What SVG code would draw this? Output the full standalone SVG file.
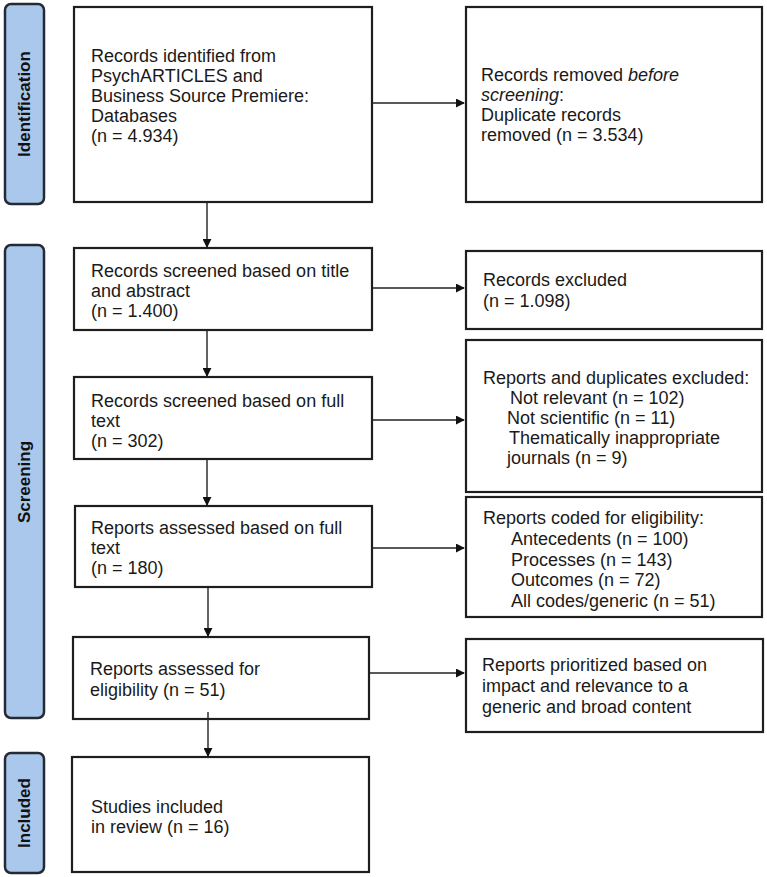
<svg xmlns="http://www.w3.org/2000/svg" width="767" height="877" viewBox="0 0 767 877">
<style>
.box{fill:#fff;stroke:#1e1e1e;stroke-width:2.2}
.side{fill:#a9c8ec;stroke:#262b33;stroke-width:2.5}
.t{font-family:"Liberation Sans",Arial,sans-serif;font-size:18px;fill:#1a1a1a}
.s{font-family:"Liberation Sans",Arial,sans-serif;font-size:17px;font-weight:bold;fill:#111}
.c{stroke:#222;stroke-width:1.4;fill:none}
</style>
<defs>
<marker id="ah" viewBox="0 0 10 10" refX="9" refY="5" markerWidth="9" markerHeight="9" markerUnits="userSpaceOnUse" orient="auto">
<path d="M0,0 L10,5 L0,10 z" fill="#111"/>
</marker>
</defs>
<rect width="767" height="877" fill="#fff"/>

<g id="side-identification">
<rect class="side" x="5" y="4" width="39" height="200" rx="6"/>
<text class="s" transform="translate(30,104) rotate(-90)" text-anchor="middle">Identification</text>
</g>
<g id="side-screening">
<rect class="side" x="5" y="245" width="39" height="473" rx="6"/>
<text class="s" transform="translate(30,482) rotate(-90)" text-anchor="middle">Screening</text>
</g>
<g id="side-included">
<rect class="side" x="5" y="753" width="39" height="120" rx="6"/>
<text class="s" transform="translate(30,813) rotate(-90)" text-anchor="middle">Included</text>
</g>

<g id="n-identified">
<rect class="box" x="74" y="7" width="298" height="195"/>
<text class="t" x="91"><tspan x="91" y="62">Records identified from</tspan><tspan x="91" y="82">PsychARTICLES and</tspan><tspan x="91" y="102">Business Source Premiere:</tspan><tspan x="91" y="122">Databases</tspan><tspan x="91" y="142">(n = 4.934)</tspan></text>
</g>
<g id="n-removed">
<rect class="box" x="466" y="7" width="296" height="195"/>
<text class="t"><tspan x="481" y="81">Records removed <tspan font-style="italic">before</tspan></tspan><tspan x="481" y="101" font-style="italic">screening</tspan><tspan>:</tspan><tspan x="481" y="121">Duplicate records</tspan><tspan x="481" y="141">removed (n = 3.534)</tspan></text>
</g>
<g id="n-screened-title">
<rect class="box" x="74" y="248" width="298" height="82"/>
<text class="t"><tspan x="91" y="277">Records screened based on title</tspan><tspan x="91" y="297">and abstract</tspan><tspan x="91" y="317">(n = 1.400)</tspan></text>
</g>
<g id="n-excluded">
<rect class="box" x="466" y="251" width="296" height="78"/>
<text class="t"><tspan x="483" y="286">Records excluded</tspan><tspan x="483" y="307">(n = 1.098)</tspan></text>
</g>
<g id="n-screened-full">
<rect class="box" x="74" y="377" width="298" height="82"/>
<text class="t"><tspan x="91" y="407">Records screened based on full</tspan><tspan x="91" y="427">text</tspan><tspan x="91" y="447">(n = 302)</tspan></text>
</g>
<g id="n-reports-excluded">
<rect class="box" x="466" y="340" width="296" height="152"/>
<text class="t"><tspan x="483" y="384">Reports and duplicates excluded:</tspan><tspan x="510" y="404">Not relevant (n = 102)</tspan><tspan x="507" y="424">Not scientific (n = 11)</tspan><tspan x="509" y="444">Thematically inappropriate</tspan><tspan x="507" y="464">journals (n = 9)</tspan></text>
</g>
<g id="n-assessed-full">
<rect class="box" x="75" y="506" width="297" height="81"/>
<text class="t"><tspan x="91" y="534">Reports assessed based on full</tspan><tspan x="91" y="554">text</tspan><tspan x="91" y="574">(n = 180)</tspan></text>
</g>
<g id="n-coded">
<rect class="box" x="466" y="497" width="296" height="120"/>
<text class="t"><tspan x="483" y="524">Reports coded for eligibility:</tspan><tspan x="511" y="545">Antecedents (n = 100)</tspan><tspan x="511" y="566">Processes (n = 143)</tspan><tspan x="511" y="586">Outcomes (n = 72)</tspan><tspan x="511" y="607">All codes/generic (n = 51)</tspan></text>
</g>
<g id="n-assessed-eligibility">
<rect class="box" x="73" y="637" width="296" height="82"/>
<text class="t"><tspan x="90" y="675">Reports assessed for</tspan><tspan x="90" y="696">eligibility (n = 51)</tspan></text>
</g>
<g id="n-prioritized">
<rect class="box" x="466" y="639" width="297" height="93"/>
<text class="t"><tspan x="482" y="671">Reports prioritized based on</tspan><tspan x="482" y="692">impact and relevance to a</tspan><tspan x="482" y="713">generic and broad content</tspan></text>
</g>
<g id="n-included">
<rect class="box" x="72" y="757" width="297" height="115"/>
<text class="t"><tspan x="91" y="813">Studies included</tspan><tspan x="91" y="833">in review (n = 16)</tspan></text>
</g>

<g id="connectors">
<line class="c" x1="207" y1="202" x2="207" y2="247" marker-end="url(#ah)"/>
<line class="c" x1="207" y1="330" x2="207" y2="376" marker-end="url(#ah)"/>
<line class="c" x1="207" y1="459" x2="207" y2="505" marker-end="url(#ah)"/>
<line class="c" x1="208" y1="587" x2="208" y2="636" marker-end="url(#ah)"/>
<line class="c" x1="208" y1="712" x2="208" y2="756" marker-end="url(#ah)"/>
<line class="c" x1="372" y1="103" x2="464" y2="103" marker-end="url(#ah)"/>
<line class="c" x1="372" y1="288" x2="464" y2="288" marker-end="url(#ah)"/>
<line class="c" x1="372" y1="420" x2="464" y2="420" marker-end="url(#ah)"/>
<line class="c" x1="372" y1="548" x2="464" y2="548" marker-end="url(#ah)"/>
<line class="c" x1="369" y1="673" x2="464" y2="673" marker-end="url(#ah)"/>
</g>
</svg>
